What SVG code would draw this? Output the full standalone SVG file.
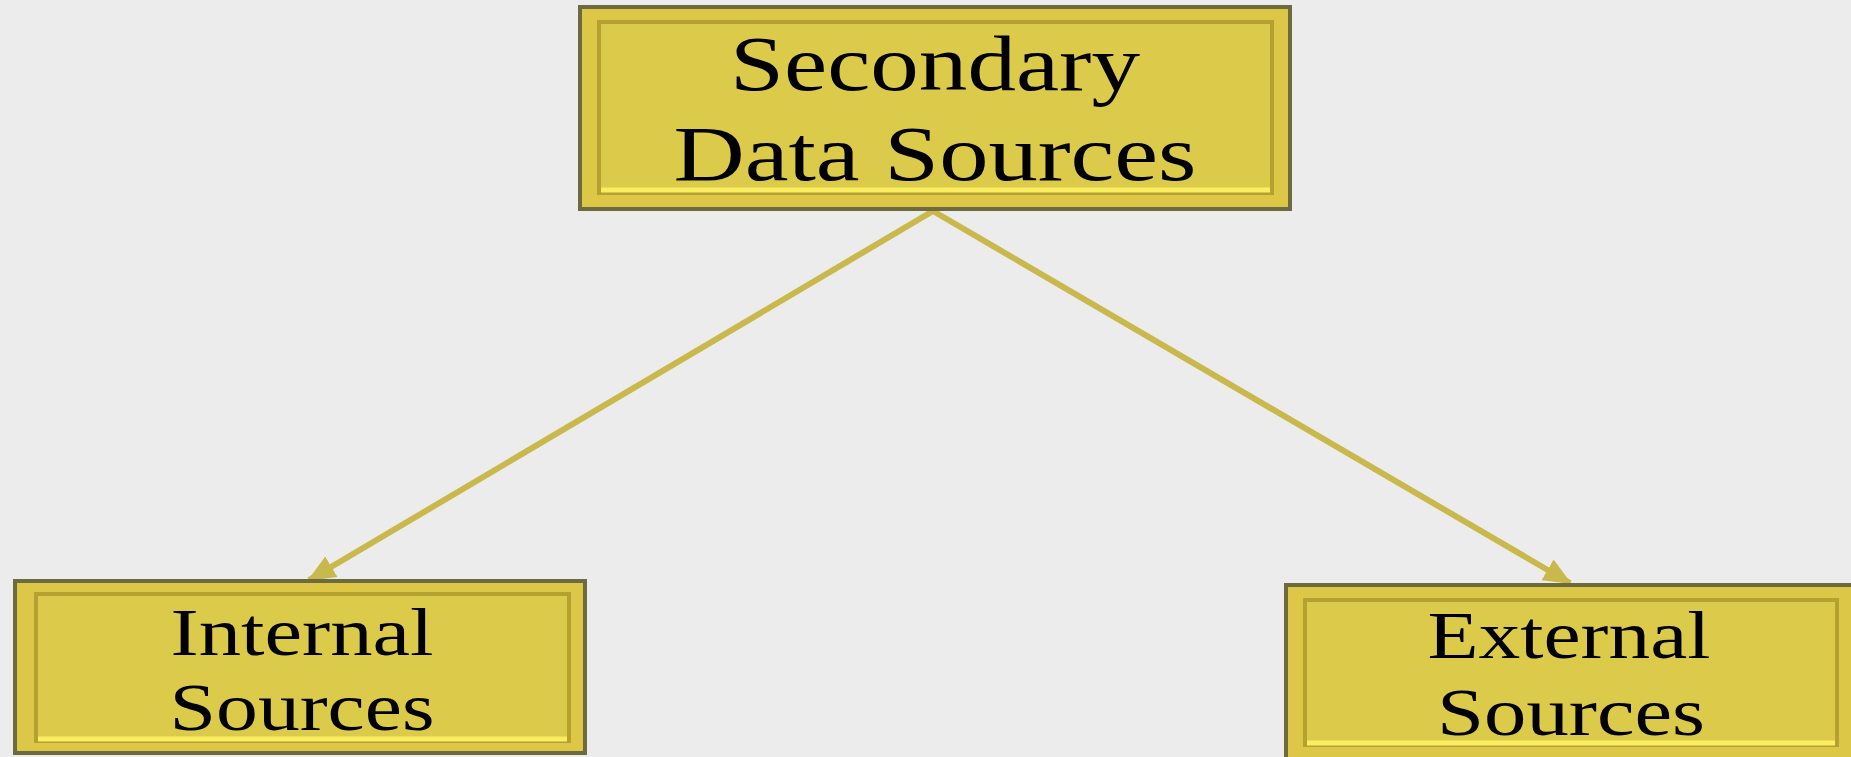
<svg xmlns="http://www.w3.org/2000/svg" width="1851" height="757" viewBox="0 0 1851 757">
<defs>
<style>
.outer{fill:#dcc846;stroke:#6e6a40;stroke-width:4}
.inner{fill:#dccb4a;stroke:#b5a032;stroke-width:4}
.hl{stroke:#faee60;stroke-width:5}
.lbl{font-family:"Liberation Serif","Times New Roman",serif;fill:#000;text-anchor:middle}
.conn{stroke:#c9b84c;stroke-width:6;fill:none}
</style>
<marker id="arr" markerUnits="userSpaceOnUse" markerWidth="30" markerHeight="28" refX="26" refY="14" orient="auto">
<path d="M0,2 L28,14 L0,26 Z" fill="#c9b84c"/>
</marker>
</defs>
<rect width="1851" height="757" fill="#ececec"/>
<g id="connectors">
<line class="conn" x1="933" y1="211" x2="309" y2="580" marker-end="url(#arr)"/>
<line class="conn" x1="933" y1="211" x2="1570" y2="583" marker-end="url(#arr)"/>
</g>
<g id="node-secondary">
<rect class="outer" x="580" y="7" width="710" height="202"/>
<rect class="inner" x="599" y="22" width="673" height="171"/>
<line class="hl" x1="601" y1="190" x2="1270" y2="190"/>
<text class="lbl" x="935" y="90" font-size="78" textLength="410" lengthAdjust="spacingAndGlyphs">Secondary</text>
<text class="lbl" x="935" y="180" font-size="78" textLength="523" lengthAdjust="spacingAndGlyphs">Data Sources</text>
</g>
<g id="node-internal">
<rect class="outer" x="15" y="581" width="570" height="172"/>
<rect class="inner" x="36" y="594" width="533" height="147"/>
<line class="hl" x1="38" y1="739" x2="567" y2="739"/>
<text class="lbl" x="302" y="655" font-size="67" textLength="263" lengthAdjust="spacingAndGlyphs">Internal</text>
<text class="lbl" x="302" y="730" font-size="67" textLength="265" lengthAdjust="spacingAndGlyphs">Sources</text>
</g>
<g id="node-external">
<rect class="outer" x="1286" y="585" width="570" height="180"/>
<rect class="inner" x="1305" y="600" width="532" height="145"/>
<line class="hl" x1="1307" y1="743" x2="1835" y2="743"/>
<text class="lbl" x="1569" y="658" font-size="67" textLength="283" lengthAdjust="spacingAndGlyphs">External</text>
<text class="lbl" x="1571" y="735" font-size="67" textLength="268" lengthAdjust="spacingAndGlyphs">Sources</text>
</g>
</svg>
